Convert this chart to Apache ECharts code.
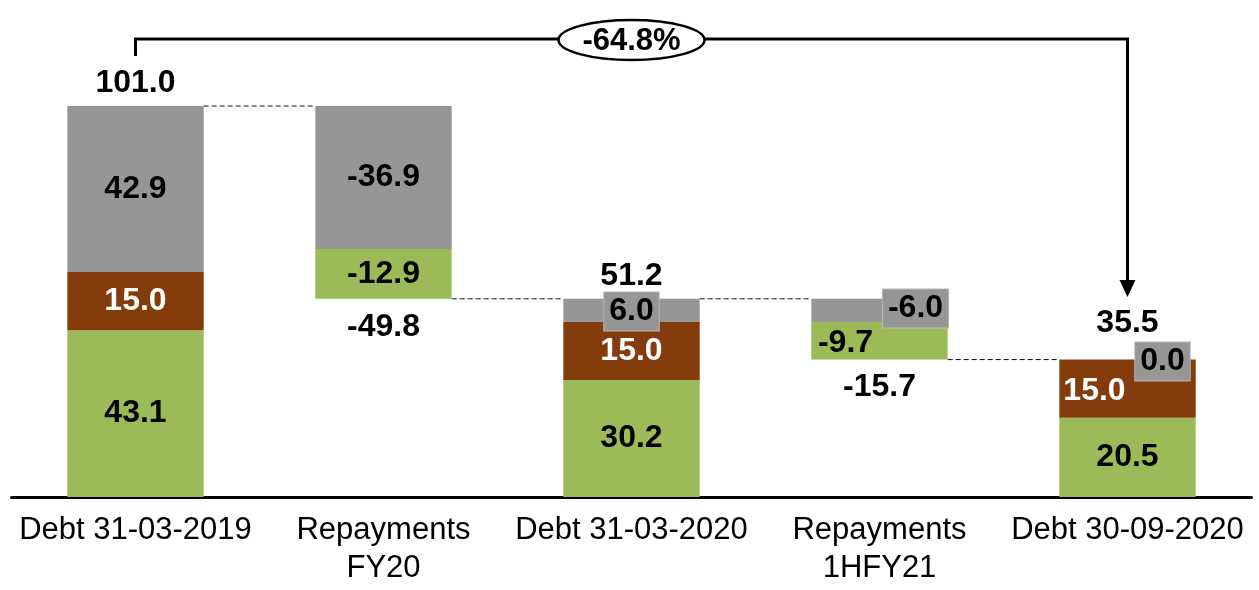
<!DOCTYPE html>
<html>
<head>
<meta charset="utf-8">
<title>Debt bridge</title>
<script src="https://cdn.jsdelivr.net/npm/echarts@6/dist/echarts.min.js"></script>
<style>
  html, body { margin: 0; padding: 0; background: #fff; }
  #chart { width: 1259px; height: 590px; }
</style>
</head>
<body>
<div id="chart"></div>
<script>
// Categories of the debt bridge
const categories = ['Debt 31-03-2019', 'Repayments\nFY20', 'Debt 31-03-2020', 'Repayments\n1HFY21', 'Debt 30-09-2020'];
// Which columns are balances (full stacks from zero) and which are movements
const isBalance = [true, false, true, false, true];
// Segment values per facility (negative = repaid in the period)
const greenValues = [43.1, -12.9, 30.2, -9.7, 20.5];
const brownValues = [15.0, 0, 15.0, 0, 15.0];
const greyValues = [42.9, -36.9, 6.0, -6.0, 0.0];
// Change from first to last balance
const changeLabel = '-64.8%';

const FONT = '"Liberation Sans", Arial, Helvetica, sans-serif';
const GREEN = '#9BBB59', BROWN = '#843C0C', GREY = '#969696';
const LABEL_SIZE = 32;

// Running levels: each column floats between its start level and end level
const baseVals = [], endLevels = [], moveTotals = [];
let level = 0;
categories.forEach((c, i) => {
  const sum = greenValues[i] + brownValues[i] + greyValues[i];
  if (isBalance[i]) {
    baseVals.push(0);
    level = sum;
  } else {
    level = level + sum;
    baseVals.push(level);
  }
  endLevels.push(level);
  moveTotals.push(sum);
});

// Label tweaks for a few small segments
const boxLabel = (offset) => ({
  show: true, position: 'inside', offset: offset,
  backgroundColor: GREY, borderColor: '#b8b8b8', borderWidth: 1,
  padding: [4, 5, 2, 5]
});
const greyLabelTweaks = { 2: boxLabel([0, 1]), 3: boxLabel([36, -2]), 4: boxLabel([35, 2]) };
const greenLabelTweaks = { 3: { offset: [-34, 2] } };
const brownLabelTweaks = { 4: { offset: [-33, 3] } };

function segData(values, tweaks) {
  return values.map((v, i) => {
    const item = { value: Math.abs(v), raw: v };
    if (Math.abs(v) === 0 && !(tweaks && tweaks[i])) item.label = { show: false };
    if (tweaks && tweaks[i]) item.label = Object.assign({ show: true }, tweaks[i]);
    return item;
  });
}

const segLabel = (color) => ({
  show: true, position: 'inside', color: color,
  fontFamily: FONT, fontWeight: 'bold', fontSize: LABEL_SIZE,
  formatter: p => p.data.raw.toFixed(1)
});

// Totals above balances, cumulative movement below repayments
const totalPoints = categories.map((c, i) => ({
  value: [i, endLevels[i]],
  text: moveTotals[i].toFixed(1),
  label: { offset: isBalance[i] ? [0, i === 4 ? -36 : -23] : [0, 28] }
}));

// Dashed connectors between consecutive columns
const connectorData = endLevels.slice(0, -1).map((v, i) => [i, v]);
const BAR_RATIO = 0.55;

const chart = echarts.init(document.getElementById('chart'), null, { renderer: 'canvas' });
chart.setOption({
  animation: false,
  backgroundColor: '#fff',
  grid: { left: 11.5, right: 7.5, top: 32.5, bottom: 93, containLabel: false },
  xAxis: {
    type: 'category', data: categories,
    axisLine: { lineStyle: { color: '#000', width: 3 } },
    axisTick: { show: false },
    axisLabel: { color: '#000', fontFamily: FONT, fontSize: 31, lineHeight: 38, margin: 14, interval: 0 }
  },
  yAxis: { type: 'value', min: 0, max: 120, show: false, splitLine: { show: false } },
  series: [
    { type: 'bar', stack: 'w', barWidth: '55%', silent: true,
      itemStyle: { color: 'transparent' }, data: baseVals, label: { show: false } },
    { type: 'bar', stack: 'w', silent: true, itemStyle: { color: GREEN },
      label: segLabel('#000'), data: segData(greenValues, greenLabelTweaks) },
    { type: 'bar', stack: 'w', silent: true, itemStyle: { color: BROWN },
      label: segLabel('#fff'), data: segData(brownValues, brownLabelTweaks) },
    { type: 'bar', stack: 'w', silent: true, itemStyle: { color: GREY },
      label: segLabel('#000'), data: segData(greyValues, greyLabelTweaks), z: 3 },
    { type: 'custom', silent: true, z: 1, data: connectorData,
      renderItem: (params, api) => {
        const a = api.coord([api.value(0), api.value(1)]);
        const b = api.coord([api.value(0) + 1, api.value(1)]);
        const half = api.size([1, 0])[0] * BAR_RATIO / 2;
        return { type: 'line',
          shape: { x1: a[0] + half, y1: a[1], x2: b[0] - half, y2: b[1] },
          style: { stroke: '#111', lineWidth: 1, lineDash: [5, 3] } };
      } },
    { type: 'scatter', silent: true, symbolSize: 0, z: 5, data: totalPoints,
      itemStyle: { opacity: 1 },
      label: { show: true, position: 'inside', color: '#000', fontFamily: FONT,
        fontWeight: 'bold', fontSize: LABEL_SIZE, formatter: p => p.data.text } }
  ]
});

// Bracket from the first to the last balance, with the overall change
const x0 = chart.convertToPixel({ xAxisIndex: 0 }, 0);
const x4 = chart.convertToPixel({ xAxisIndex: 0 }, 4);
const midX = (x0 + x4) / 2;
const yLine = 39;
chart.setOption({
  graphic: [
    { type: 'polyline', silent: true, z: 10,
      shape: { points: [[x0, 56], [x0, yLine], [x4, yLine], [x4, 282]] },
      style: { stroke: '#000', lineWidth: 3, fill: null } },
    { type: 'polygon', silent: true, z: 10,
      shape: { points: [[x4 - 8, 280], [x4 + 8, 280], [x4, 297]] },
      style: { fill: '#000' } },
    { type: 'ellipse', silent: true, z: 11,
      shape: { cx: midX, cy: 40, rx: 73, ry: 20 },
      style: { fill: '#fff', stroke: '#000', lineWidth: 2.5 } },
    { type: 'text', silent: true, z: 12, x: midX, y: 41,
      style: { text: changeLabel, fill: '#000', font: 'bold 31px ' + FONT,
        align: 'center', verticalAlign: 'middle' } }
  ]
});
</script>
</body>
</html>
